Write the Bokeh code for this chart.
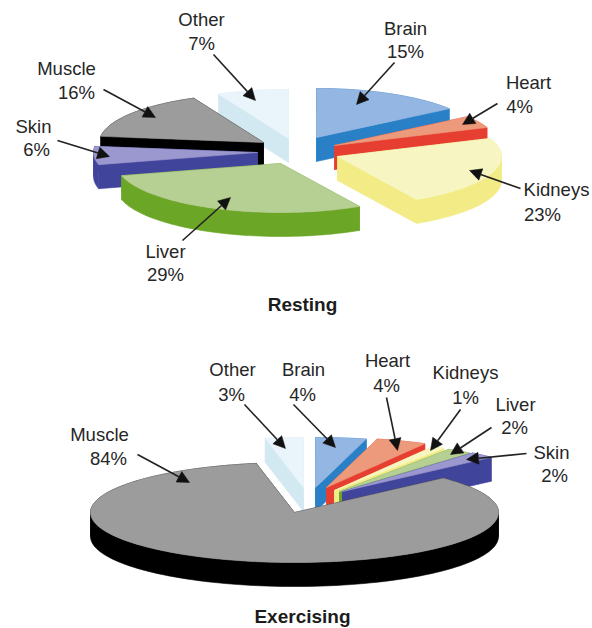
from math import sin, cos, radians
from bokeh.plotting import figure
from bokeh.models import Range1d, Arrow, NormalHead, ColumnDataSource
from bokeh.embed import file_html
from bokeh.resources import INLINE
from bokeh.core.properties import value

# ---------- data ----------
organs = ["Brain", "Heart", "Kidneys", "Liver", "Skin", "Muscle", "Other"]
resting_pct = [15, 4, 23, 29, 6, 16, 7]
exercising_pct = [4, 4, 1, 2, 2, 84, 3]
titles = ["Resting", "Exercising"]

# ---------- styles ----------
top_colors = dict(Brain="#93b6e3", Heart="#ec9a7b", Kidneys="#f7f6c2", Liver="#b6cf93",
                  Skin="#9b97cf", Muscle="#9c9c9c", Other="#e9f5fa")
side_colors = dict(Brain="#2a80c6", Heart="#e63f31", Kidneys="#f2eb86", Liver="#6ba626",
                   Skin="#40459b", Muscle="#000000", Other="#d3e9f2")
text_color = "#262626"
FONT = "Liberation Sans"
FS = "18.5px"
FS_TITLE = "19px"

# ---------- layout (page pixels) ----------
rest_geom = dict(rx=164, ry=49, depth=24,
                 order=["Other", "Brain", "Heart", "Kidneys", "Muscle", "Skin", "Liver"],
                 apex=dict(Brain=(316, 137), Heart=(334, 145), Kidneys=(337, 156), Liver=(280, 163),
                           Skin=(257, 152), Muscle=(263, 142), Other=(288, 138)))
ex_geom = dict(rx=204, ry=50, depth=24,
               order=["Other", "Brain", "Heart", "Kidneys", "Liver", "Skin", "Muscle"],
               apex=dict(Brain=(315, 487), Heart=(326, 487), Kidneys=(334, 490), Liver=(339, 491),
                         Skin=(342, 491), Muscle=(294, 512), Other=(303, 487)))

labels = [
    ("Other", 201, 19), ("7%", 201, 43), ("Brain", 405, 28), ("15%", 405, 51),
    ("Heart", 528, 82), ("4%", 519, 106), ("Kidneys", 556, 189), ("23%", 542, 214),
    ("Muscle", 66, 68), ("16%", 76, 92), ("Skin", 33, 126), ("6%", 36, 149),
    ("Liver", 165, 251), ("29%", 165, 274),
    ("Other", 232, 369), ("3%", 231, 394), ("Brain", 303, 369), ("4%", 302, 394),
    ("Heart", 387, 360), ("4%", 386, 385), ("Kidneys", 465, 372), ("1%", 465, 397),
    ("Liver", 515, 404), ("2%", 514, 427), ("Skin", 551, 452), ("2%", 554, 475),
    ("Muscle", 99, 434), ("84%", 108, 458),
]
title_pos = [(302, 304), (302, 616)]
arrows = [
    (213, 54, 255, 100), (394, 62, 356, 104), (497, 103, 462, 124), (520, 188, 469, 170),
    (182, 240, 230, 197), (57, 140, 109, 156), (103, 89, 155, 117),
    (244, 404, 285, 448), (293, 404, 335, 447), (386, 397, 397, 450), (460, 409, 430, 450),
    (491, 427, 450, 454), (526, 453, 466, 459), (137, 454, 189, 482),
]

p = figure(width=592, height=628, x_range=Range1d(0, 592), y_range=Range1d(628, 0),
           output_backend="svg", toolbar_location=None, min_border=0)
p.axis.visible = False
p.grid.visible = False
p.outline_line_color = None


def draw_pie(pct, g):
    start = 0.0
    spans = {}
    for name, v in zip(organs, pct):
        spans[name] = (start, start + v * 3.6)
        start += v * 3.6
    d, rx, ry = g["depth"], g["rx"], g["ry"]
    for name in g["order"]:
        a0, a1 = spans[name]
        ax, ay = g["apex"][name]

        def arc_points(s, e):
            n = max(2, int((e - s) / 2))
            return [(ax + rx * sin(radians(s + (e - s) * i / n)),
                     ay - ry * cos(radians(s + (e - s) * i / n))) for i in range(n + 1)]

        # the rim is split where it turns back in x, so each strip stays a simple shape
        cuts = [a0] + [c for c in (90, 270) if a0 < c < a1] + [a1]
        xs, ys = [], []
        for s, e in zip(cuts[:-1], cuts[1:]):
            seg = arc_points(s, e)
            xs.append([q[0] for q in seg] + [q[0] for q in reversed(seg)])
            ys.append([q[1] for q in seg] + [q[1] + d for q in reversed(seg)])
        arc = arc_points(a0, a1)
        for end in (arc[0], arc[-1]):
            xs.append([ax, end[0], end[0], ax])
            ys.append([ay, end[1], end[1] + d, ay + d])
        side = side_colors[name]
        p.patches(xs, ys, fill_color=side, line_color=side, line_width=0.6)
        top = top_colors[name]
        p.patch([ax] + [q[0] for q in arc], [ay] + [q[1] for q in arc],
                fill_color=top, line_color=top, line_width=0.6)


draw_pie(resting_pct, rest_geom)
draw_pie(exercising_pct, ex_geom)

src = ColumnDataSource(dict(x0=[a[0] for a in arrows], y0=[a[1] for a in arrows],
                            x1=[a[2] for a in arrows], y1=[a[3] for a in arrows]))
p.add_layout(Arrow(source=src, x_start="x0", y_start="y0", x_end="x1", y_end="y1",
                   line_color="#222222", line_width=1.6,
                   end=NormalHead(size=12, fill_color="#111111", line_color="#111111", line_width=0.5)))

p.text([l[1] for l in labels], [l[2] for l in labels], text=[l[0] for l in labels],
       text_font=value(FONT), text_font_size=value(FS), text_color=text_color,
       text_align="center", text_baseline="middle")
p.text([t[0] for t in title_pos], [t[1] for t in title_pos], text=titles,
       text_font=value(FONT), text_font_size=value(FS_TITLE), text_font_style="bold",
       text_color="#1c1c1c", text_align="center", text_baseline="middle")

open("out.html", "w").write(file_html(p, INLINE))
